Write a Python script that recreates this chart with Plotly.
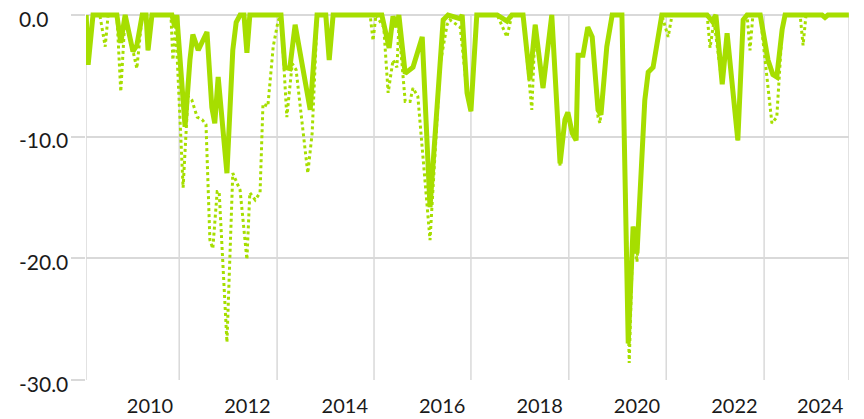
import plotly.graph_objects as go

# decimal-year dates and drawdown values (%)
solid_years = [
    2008.69, 2008.73, 2008.83, 2009.32, 2009.40, 2009.49, 2009.65, 2009.73, 2009.84, 2009.92,
    2009.96, 2010.04, 2010.45, 2010.51, 2010.55, 2010.68, 2010.72, 2010.82, 2010.88, 2010.99,
    2011.17, 2011.27, 2011.33, 2011.40, 2011.58, 2011.70, 2011.77, 2011.85, 2011.93, 2011.99,
    2012.05, 2012.69, 2012.77, 2012.87, 2012.98, 2013.29, 2013.43, 2013.61, 2013.68, 2013.76,
    2014.76, 2014.91, 2014.99, 2015.07, 2015.11, 2015.24, 2015.40, 2015.59, 2015.75, 2016.02,
    2016.12, 2016.37, 2016.41, 2016.51, 2016.59, 2016.71, 2017.13, 2017.33, 2017.43, 2017.66,
    2017.80, 2017.91, 2018.07, 2018.25, 2018.42, 2018.52, 2018.58, 2018.67, 2018.75, 2018.79,
    2018.89, 2018.99, 2019.08, 2019.20, 2019.26, 2019.38, 2019.49, 2019.69, 2019.82, 2019.92,
    2020.00, 2020.16, 2020.23, 2020.33, 2020.43, 2020.51, 2021.44, 2021.54, 2021.62, 2021.75,
    2021.85, 2022.07, 2022.18, 2022.26, 2022.53, 2022.69, 2022.79, 2022.87, 2022.98, 2023.04,
    2023.80, 2023.86, 2023.92, 2024.35,
]
solid_values = [
    0, -4.1, 0, 0, -2.3, 0, -3.0, -2.5, 0, 0,
    -2.9, 0, 0, -1.0, 0, -6.7, -9.2, -3.7, -1.6, -2.9,
    -1.4, -7.6, -8.9, -5.1, -13.0, -2.9, -0.6, 0, 0, -3.1,
    0, 0, -4.3, -4.4, -0.8, -7.8, 0, 0, -3.7, 0,
    0, -2.7, -0.1, -1.0, 0, -4.8, -4.3, -1.8, -15.8, -0.4,
    0, -0.3, 0, -6.4, -7.9, 0, 0, -0.5, 0, 0,
    -5.3, -0.8, -6.0, 0, -12.2, -8.6, -8.0, -9.7, -10.3, -3.3,
    -3.3, -1.0, -1.8, -7.8, -8.2, -2.6, 0, 0, -27.0, -17.4,
    -19.6, -7.0, -4.7, -4.3, -2.1, 0, 0, -0.5, 0, -5.7,
    -1.5, -10.3, -0.4, 0, 0, -3.7, -4.9, -5.1, -1.2, 0,
    0, -0.2, 0, 0,
]

dotted_years = [
    2008.69, 2008.73, 2008.83, 2008.97, 2009.08, 2009.14, 2009.32, 2009.40, 2009.49, 2009.65,
    2009.73, 2009.84, 2009.92, 2009.96, 2010.04, 2010.43, 2010.47, 2010.53, 2010.68, 2010.78,
    2010.86, 2010.97, 2011.07, 2011.15, 2011.23, 2011.29, 2011.38, 2011.42, 2011.58, 2011.70,
    2011.85, 2011.99, 2012.05, 2012.16, 2012.26, 2012.32, 2012.42, 2012.53, 2012.63, 2012.69,
    2012.81, 2012.92, 2013.00, 2013.24, 2013.33, 2013.43, 2013.49, 2013.61, 2013.68, 2013.76,
    2014.52, 2014.58, 2014.64, 2014.80, 2014.89, 2014.99, 2015.07, 2015.11, 2015.24, 2015.34,
    2015.40, 2015.50, 2015.75, 2015.96, 2016.10, 2016.16, 2016.37, 2016.51, 2016.59, 2016.71,
    2017.13, 2017.33, 2017.43, 2017.66, 2017.84, 2017.91, 2018.07, 2018.25, 2018.42, 2018.52,
    2018.58, 2018.67, 2018.75, 2018.79, 2018.89, 2018.99, 2019.08, 2019.20, 2019.24, 2019.38,
    2019.49, 2019.69, 2019.84, 2019.92, 2020.00, 2020.16, 2020.23, 2020.33, 2020.43, 2020.51,
    2020.64, 2020.72, 2021.44, 2021.50, 2021.58, 2021.75, 2021.85, 2022.07, 2022.18, 2022.26,
    2022.32, 2022.38, 2022.53, 2022.69, 2022.77, 2022.87, 2022.98, 2023.04, 2023.35, 2023.41,
    2023.47, 2024.35,
]
dotted_values = [
    0, -4.1, 0, 0, -2.6, 0, 0, -6.3, 0, -3.0,
    -4.4, 0, 0, -2.9, 0, 0, -3.7, -1.0, -14.2, -6.7,
    -7.0, -8.4, -8.6, -9.0, -18.5, -19.2, -14.5, -14.5, -26.9, -13.0,
    -14.4, -20.1, -14.6, -15.2, -14.6, -7.3, -7.5, -2.6, -0.5, 0,
    -8.4, -4.0, -4.5, -13.0, -9.7, -0.4, 0, 0, -3.7, 0,
    0, -2.1, 0, -1.0, -6.4, -3.7, -4.3, -1.0, -7.1, -7.1,
    -6.0, -6.7, -18.5, -4.0, -0.8, -0.4, -1.0, -6.4, -7.9, 0,
    0, -1.8, 0, 0, -7.8, -0.8, -6.0, 0, -12.4, -8.6,
    -8.0, -9.7, -10.3, -3.3, -3.3, -1.0, -1.8, -8.4, -8.9, -2.6,
    0, 0, -28.6, -17.4, -20.3, -7.0, -4.7, -4.3, -2.1, 0,
    -1.8, 0, 0, -2.7, -0.5, -5.7, -1.5, -10.3, -0.4, 0,
    -2.9, 0, 0, -6.0, -8.9, -8.4, -1.2, 0, 0, -2.5,
    0, 0,
]

x_tick_vals = [2010, 2012, 2014, 2016, 2018, 2020, 2022, 2023.76]
x_tick_text = ["2010", "2012", "2014", "2016", "2018", "2020", "2022", "2024"]
x_grid_vals = [2008.686, 2010.60, 2012.61, 2014.60, 2016.59, 2018.60, 2020.60, 2022.61, 2024.353]
y_tick_vals = [0, -10, -20, -30]
y_tick_text = ["0.0", "-10.0", "-20.0", "-30.0"]

LIME = "#A6DE00"
GRID = "#D9D9D9"
FONT = "Lato"

fig = go.Figure()

fig.add_trace(
    go.Scatter(
        x=dotted_years,
        y=dotted_values,
        mode="lines",
        line=dict(color=LIME, width=3, dash="dot"),
        hoverinfo="skip",
    )
)
fig.add_trace(
    go.Scatter(
        x=solid_years,
        y=solid_values,
        mode="lines",
        line=dict(color=LIME, width=5),
        hoverinfo="skip",
    )
)

for xv in x_grid_vals:
    fig.add_shape(
        type="line",
        xref="x",
        yref="y",
        x0=xv,
        x1=xv,
        y0=-30,
        y1=0,
        line=dict(color=GRID, width=1.5),
        layer="below",
    )

for yv, txt in zip(y_tick_vals, y_tick_text):
    fig.add_annotation(
        x=0,
        xref="paper",
        y=yv,
        yref="y",
        text=txt,
        showarrow=False,
        xanchor="left",
        yanchor="middle",
        xshift=-69,
        yshift=-3,
        font=dict(family=FONT, size=21, color="#1a1a1a"),
    )

fig.update_layout(
    width=864,
    height=419,
    margin=dict(l=86, r=15, t=12, b=38),
    plot_bgcolor="white",
    paper_bgcolor="white",
    showlegend=False,
    font=dict(family=FONT, size=20, color="#1a1a1a"),
)
fig.update_xaxes(
    range=[2008.686, 2024.353],
    tickvals=x_tick_vals,
    ticktext=x_tick_text,
    showgrid=False,
    zeroline=False,
    ticks="outside",
    ticklen=7,
    tickcolor="rgba(0,0,0,0)",
    tickfont=dict(family=FONT, size=20, color="#1a1a1a"),
    automargin=False,
)
fig.update_yaxes(
    range=[-30.082, 0.2466],
    tickvals=y_tick_vals,
    showticklabels=False,
    showgrid=True,
    gridcolor=GRID,
    gridwidth=1.5,
    zeroline=False,
    ticks="outside",
    ticklen=14,
    tickwidth=1.5,
    tickcolor=GRID,
    automargin=False,
)

fig.write_html(
    "out.html",
    config={"displayModeBar": False},
    post_script="document.body.style.margin='0';",
)
